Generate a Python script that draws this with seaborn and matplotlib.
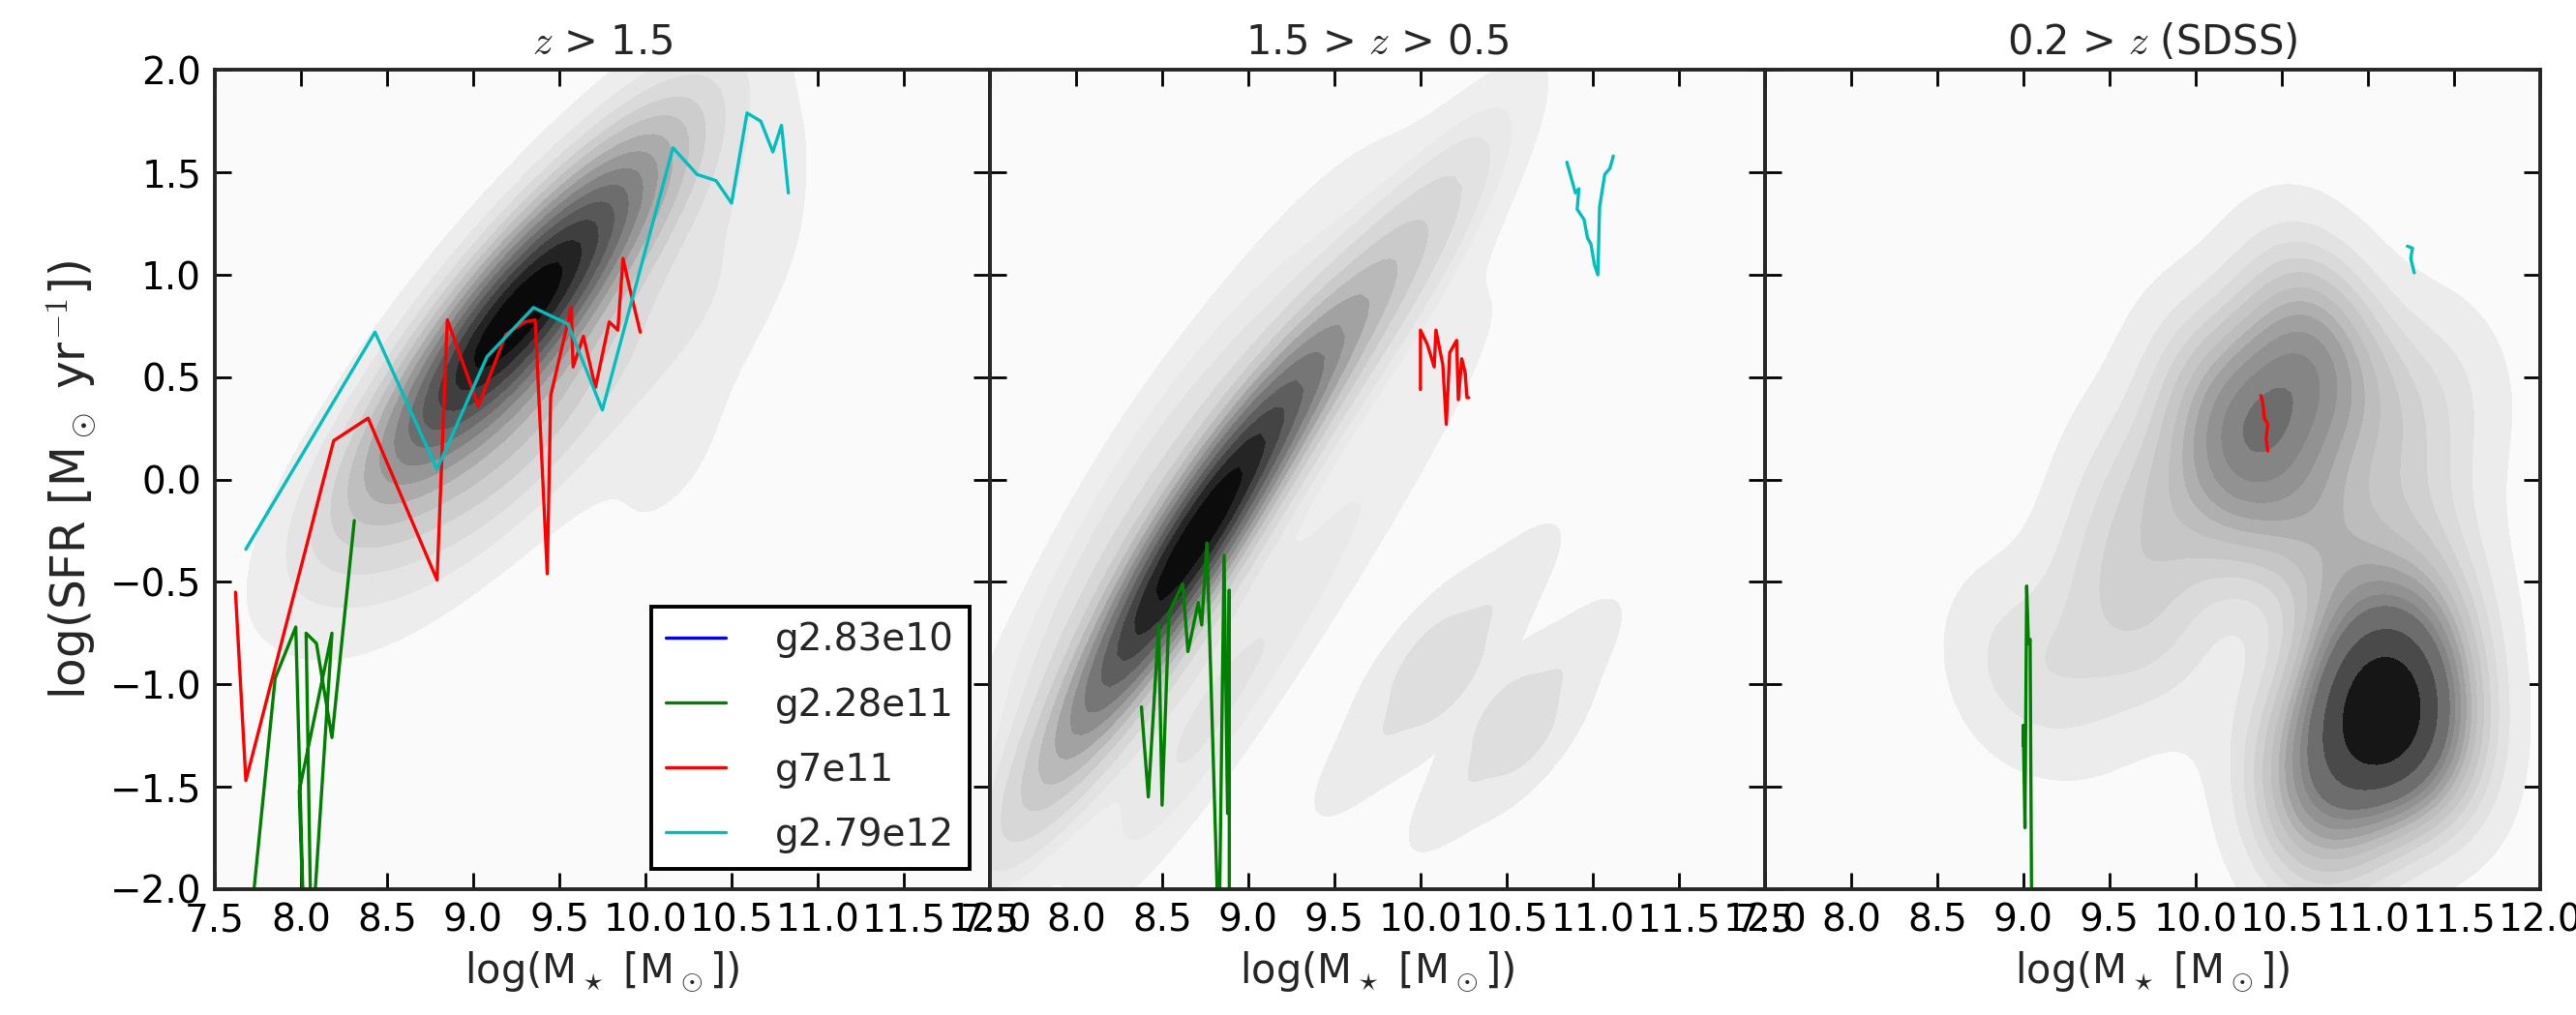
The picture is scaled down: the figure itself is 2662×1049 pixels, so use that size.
import numpy as np
import pandas as pd
import matplotlib
matplotlib.use("Agg")
import matplotlib.pyplot as plt
from matplotlib.colors import ListedColormap
import seaborn as sns

# panel titles and halo names
titles = ["$z$ > 1.5", "1.5 > $z$ > 0.5", "0.2 > $z$ (SDSS)"]
halos = ["g2.83e10", "g2.28e11", "g7e11", "g2.79e12"]
halo_colors = ["#0000ff", "#008000", "#ff0000", "#00bfbf"]

hiz_mass = [8.4, 8.75, 9.05, 9.3, 9.55, 9.85, 10.05, 9.5, 9.05, 8.6, 10.35, 10.45, 10.15]
hiz_sfr = [-0.05, 0.3, 0.6, 0.85, 1.1, 1.4, 1.6, 0.35, -0.05, -0.3, 0.8, 1.35, 0.0]
hiz_w = [1.5, 3, 5, 6, 4, 2.5, 1.2, 2, 1.2, 0.8, 0.9, 0.7, 0.5]

midz_mass = [7.95, 8.25, 8.5, 8.75, 9.05, 9.4, 9.8, 10.15,
             7.9, 8.4, 9.0, 9.6, 8.5, 9.0, 9.6, 10.2]
midz_sfr = [-1.3, -0.95, -0.55, -0.2, 0.2, 0.55, 0.95, 1.3,
            -0.7, 0.1, 0.8, 1.4, -1.5, -0.9, -0.2, 0.6]
midz_w = [3, 5, 7, 12, 6, 4, 3, 1.5,
          1.5, 1.5, 1, 0.5, 1.5, 1.5, 1.0, 0.7]

# the two faint detached clumps below the main sequence
clump1_mass = [9.75, 10.45, 10.19, 10.01]
clump1_sfr = [-1.28, -0.58, -1.02, -0.84]
clump2_mass = [10.25, 10.85, 10.64, 10.46]
clump2_sfr = [-1.5, -0.9, -1.29, -1.11]
clump_w = [1, 1, 1.5, 1.5]

sdss_mass = [10.5, 10.2, 10.8, 10.6, 10.3, 8.9, 9.3, 9.5, 9.9, 9.8, 9.6, 10.0, 10.8, 11.2,
             11.4, 11.5, 11.05, 10.75, 11.3, 10.6, 11.4]
sdss_sfr = [0.4, 0.2, 0.6, 0.9, -0.1, -0.9, -1.0, -0.5, -0.2, -0.8, 0.0, 0.5, -0.3, 0.2,
            -0.4, 0.5, -1.15, -1.45, -0.85, -1.7, -1.3]
sdss_w = [2.8, 2.0, 2.0, 1.2, 1.5, 1.0, 0.8, 1.2, 1.2, 0.8, 0.7, 0.9, 2, 1.2,
          1, 0.8, 7, 3, 3, 1.5, 1.5]

# simulated tracks, panel 1 (z > 1.5)
p1_green_x = [7.68, 7.85, 7.97, 8.02, 7.99, 8.18, 8.06, 8.03, 8.09, 8.18, 8.31]
p1_green_y = [-2.4, -0.97, -0.72, -2.3, -1.52, -0.75, -2.3, -0.75, -0.80, -1.26, -0.20]
p1_red_x = [7.62, 7.68, 8.19, 8.39, 8.79, 8.85, 9.03, 9.19, 9.30, 9.36, 9.43, 9.45, 9.57,
            9.58, 9.64, 9.71, 9.79, 9.84, 9.87, 9.91, 9.97]
p1_red_y = [-0.55, -1.47, 0.19, 0.30, -0.49, 0.78, 0.36, 0.71, 0.77, 0.78, -0.46, 0.41, 0.84,
            0.55, 0.70, 0.45, 0.77, 0.73, 1.08, 0.93, 0.72]
p1_cyan_x = [7.68, 8.43, 8.79, 9.08, 9.35, 9.55, 9.75, 10.16, 10.30, 10.41, 10.50, 10.59,
             10.67, 10.74, 10.79, 10.83]
p1_cyan_y = [-0.34, 0.72, 0.05, 0.60, 0.84, 0.76, 0.34, 1.62, 1.49, 1.46, 1.35, 1.79,
             1.75, 1.60, 1.73, 1.40]

# panel 2 (1.5 > z > 0.5)
p2_green_x = [8.38, 8.42, 8.48, 8.50, 8.54, 8.62, 8.65, 8.71, 8.73, 8.76, 8.83, 8.86,
              8.88, 8.89, 8.89]
p2_green_y = [-1.11, -1.55, -0.71, -1.59, -0.65, -0.51, -0.84, -0.60, -0.71, -0.31, -2.3,
              -0.37, -1.63, -0.54, -2.3]
p2_red_x = [10.00, 10.00, 10.04, 10.08, 10.09, 10.13, 10.15, 10.17, 10.21, 10.22, 10.24,
            10.26, 10.27, 10.28]
p2_red_y = [0.44, 0.73, 0.66, 0.55, 0.73, 0.56, 0.27, 0.62, 0.68, 0.39, 0.59, 0.52, 0.40, 0.40]
p2_cyan_x = [10.85, 10.90, 10.92, 10.91, 10.95, 10.97, 10.99, 11.01, 11.03, 11.04, 11.07,
             11.10, 11.12]
p2_cyan_y = [1.55, 1.40, 1.42, 1.32, 1.27, 1.18, 1.15, 1.05, 1.00, 1.33, 1.49, 1.52, 1.58]

# panel 3 (SDSS)
p3_green_x = [9.00, 9.00, 9.01, 9.02, 9.03, 9.04, 9.05]
p3_green_y = [-1.30, -1.20, -1.70, -0.52, -0.80, -0.78, -2.3]
p3_red_x = [10.38, 10.39, 10.40, 10.42, 10.41, 10.42]
p3_red_y = [0.41, 0.38, 0.30, 0.27, 0.20, 0.14]
p3_cyan_x = [11.23, 11.26, 11.25, 11.27]
p3_cyan_y = [1.14, 1.13, 1.08, 1.01]

populations = [
    pd.DataFrame({"mass": hiz_mass, "sfr": hiz_sfr, "w": hiz_w}),
    pd.DataFrame({"mass": midz_mass, "sfr": midz_sfr, "w": midz_w}),
    pd.DataFrame({"mass": sdss_mass, "sfr": sdss_sfr, "w": sdss_w}),
]
clumps = [
    pd.DataFrame({"mass": clump1_mass, "sfr": clump1_sfr, "w": clump_w}),
    pd.DataFrame({"mass": clump2_mass, "sfr": clump2_sfr, "w": clump_w}),
]
bws = [0.8, 0.68, 0.45]
tracks = [
    [([], []), (p1_green_x, p1_green_y), (p1_red_x, p1_red_y), (p1_cyan_x, p1_cyan_y)],
    [([], []), (p2_green_x, p2_green_y), (p2_red_x, p2_red_y), (p2_cyan_x, p2_cyan_y)],
    [([], []), (p3_green_x, p3_green_y), (p3_red_x, p3_red_y), (p3_cyan_x, p3_cyan_y)],
]

sns.set_theme(style="ticks")
plt.rcParams.update({
    "font.family": ["DejaVu Sans"],
    "font.size": 14,
    "mathtext.fontset": "cm",
    "axes.linewidth": 1.4,
    "xtick.direction": "in", "ytick.direction": "in",
    "xtick.top": True, "ytick.right": True,
    "xtick.major.size": 6, "ytick.major.size": 6,
    "xtick.major.width": 1.0, "ytick.major.width": 1.0,
    "xtick.labelsize": 14, "ytick.labelsize": 14,
    "xtick.major.pad": 5, "ytick.major.pad": 5,
})

greys = plt.get_cmap("Greys")
band_cmap = ListedColormap(greys(np.linspace(0.12, 1.0, 256)))
clump_cmap = ListedColormap(["#ebebeb", "#dedede"])

fig, axes = plt.subplots(1, 3, figsize=(13.31, 5.245), dpi=200, sharey=True)
fig.subplots_adjust(left=0.0834, right=0.986, top=0.931, bottom=0.124, wspace=0)

for i, ax in enumerate(axes):
    ax.set_facecolor(greys(0.04))
    if i == 1:
        for clump in clumps:
            sns.kdeplot(data=clump, x="mass", y="sfr", weights="w", fill=True,
                        cmap=clump_cmap, levels=[0.08, 0.6, 1.0],
                        bw_method=0.8, cut=6, ax=ax)
    sns.kdeplot(data=populations[i], x="mass", y="sfr", weights="w", fill=True,
                cmap=band_cmap, levels=14, thresh=0.04, bw_method=bws[i], cut=6, ax=ax)
    for (tx, ty), name, col in zip(tracks[i], halos, halo_colors):
        ax.plot(tx, ty, color=col, lw=1.2, label=name)
    ax.set_xlim(7.5, 12.0)
    ax.set_ylim(-2.0, 2.0)
    ax.set_xticks(np.arange(7.5, 12.01, 0.5))
    ax.set_yticks(np.arange(-2.0, 2.01, 0.5))
    ax.set_title(titles[i], fontsize=15, pad=6)
    ax.set_xlabel(r"log(M$_\star$ [M$_\odot$])", fontsize=15)
    ax.set_ylabel("")
    ax.tick_params(colors="black")

axes[0].set_ylabel(r"log(SFR [M$_\odot$ yr$^{-1}$])", fontsize=17.5)
for ax in axes[1:]:
    ax.tick_params(labelleft=False)

leg = axes[0].legend(loc="lower right", fontsize=14, frameon=True, fancybox=False,
                     handlelength=1.6, handletextpad=1.3, labelspacing=0.75,
                     borderaxespad=0.55, framealpha=1)
leg.get_frame().set_edgecolor("black")
leg.get_frame().set_linewidth(1.4)

fig.savefig("out.png", dpi=200)
